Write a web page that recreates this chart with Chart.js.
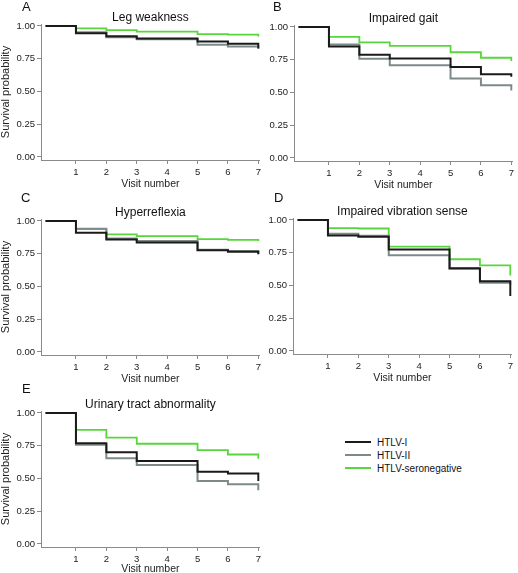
<!DOCTYPE html>
<html>
<head>
<meta charset="utf-8">
<script src="https://cdn.jsdelivr.net/npm/chart.js@4"></script>
<style>
  body { margin: 0; background: #fff; }
  #wrap { position: relative; width: 518px; height: 573px; overflow: hidden; font-family: "Liberation Sans", Arial, sans-serif; }
  canvas { position: absolute; }
  .tag { position: absolute; font-size: 13px; color: #111; line-height: 13px; }
  .key { position: absolute; left: 345px; font-size: 10px; color: #111; line-height: 12px; }
  .key span { display: inline-block; width: 26px; height: 2px; vertical-align: middle; margin-right: 6px; position: relative; top: -1px; }
</style>
</head>
<body>
<div id="wrap">
  <canvas id="cA" width="264" height="190" style="left:0px;top:0px"></canvas>
  <canvas id="cB" width="264" height="190" style="left:253px;top:1px"></canvas>
  <canvas id="cC" width="264" height="190" style="left:0px;top:195px"></canvas>
  <canvas id="cD" width="264" height="190" style="left:252px;top:194px"></canvas>
  <canvas id="cE" width="264" height="188" style="left:0px;top:387px"></canvas>
  <div class="tag" style="left:22px;top:0px">A</div>
  <div class="tag" style="left:273px;top:0px">B</div>
  <div class="tag" style="left:21px;top:191px">C</div>
  <div class="tag" style="left:274px;top:191px">D</div>
  <div class="tag" style="left:22px;top:382px">E</div>
  <div class="key" style="top:437px"><span style="background:#1a1a1a"></span>HTLV-I</div>
  <div class="key" style="top:450px"><span style="background:#7d8a8a"></span>HTLV-II</div>
  <div class="key" style="top:463px"><span style="background:#58d63c"></span>HTLV-seronegative</div>
</div>
<script>
// visits where the curves step (no events at visit 4)
const visits = [0, 1, 2, 3, 5, 6, 7];
const xTicks = [1, 2, 3, 4, 5, 6, 7];
const yTicks = [0, 0.25, 0.5, 0.75, 1];
const groups = ['HTLV-I', 'HTLV-II', 'HTLV-seronegative'];

// A - Leg weakness
const legI = [1, 0.945, 0.922, 0.905, 0.882, 0.864, 0.83];
const legII = [1, 0.952, 0.914, 0.898, 0.857, 0.843, 0.825];
const legNeg = [1, 0.982, 0.968, 0.957, 0.937, 0.934, 0.92];

// B - Impaired gait
const gaitI = [1, 0.85, 0.787, 0.76, 0.695, 0.64, 0.62];
const gaitII = [1, 0.867, 0.757, 0.707, 0.607, 0.555, 0.515];
const gaitNeg = [1, 0.925, 0.882, 0.855, 0.807, 0.765, 0.74];

// C - Hyperreflexia
const hypI = [1, 0.91, 0.858, 0.835, 0.776, 0.765, 0.748];
const hypII = [1, 0.94, 0.866, 0.848, 0.78, 0.77, 0.745];
const hypNeg = [1, 0.938, 0.897, 0.884, 0.861, 0.855, 0.848];

// D - Impaired vibration sense
const vibI = [1, 0.882, 0.872, 0.775, 0.632, 0.533, 0.42];
const vibII = [1, 0.895, 0.88, 0.73, 0.628, 0.52, 0.505];
const vibNeg = [1, 0.937, 0.935, 0.797, 0.70, 0.654, 0.577];

// E - Urinary tract abnormality
const uriI = [1, 0.768, 0.70, 0.633, 0.552, 0.538, 0.48];
const uriII = [1, 0.758, 0.655, 0.603, 0.48, 0.455, 0.41];
const uriNeg = [1, 0.871, 0.812, 0.765, 0.716, 0.683, 0.65];

const colors = ['#1a1a1a', '#7d8a8a', '#58d63c'];
const axisColor = '#8a8a8a';

Chart.defaults.font.family = '"Liberation Sans", Arial, sans-serif';
Chart.defaults.color = '#222';

function makePanel(id, title, series, showYTitle, xHeight) {
    const ctx = document.getElementById(id).getContext('2d');
    const datasets = series.map((vals, i) => ({
        label: groups[i],
        data: visits.map((v, j) => ({ x: v, y: vals[j] })),
        borderColor: colors[i],
        borderWidth: i === 2 ? 1.8 : 2,
        stepped: 'before',
        pointRadius: 0,
        fill: false
    }));

    new Chart(ctx, {
        type: 'line',
        data: { datasets },
        options: {
            responsive: false,
            animation: false,
            layout: { padding: { left: 0, right: 3, top: 0, bottom: 0 } },
            plugins: {
                legend: { display: false },
                tooltip: { enabled: false },
                title: {
                    display: true,
                    text: title,
                    fullSize: false,
                    color: '#111',
                    font: { size: 12, weight: 'normal', lineHeight: 1 },
                    padding: { top: 12, bottom: 0 }
                }
            },
            scales: {
                x: {
                    type: 'linear',
                    min: -0.15,
                    max: 7.05,
                    afterBuildTicks: axis => { axis.ticks = xTicks.map(v => ({ value: v })); },
                    afterFit: scale => { scale.height = xHeight; },
                    ticks: { font: { size: 9.5 }, padding: 3, maxRotation: 0 },
                    grid: { display: true, drawOnChartArea: false, tickLength: 4, color: axisColor },
                    border: { display: true, color: axisColor, width: 1 },
                    title: {
                        display: true,
                        text: 'Visit number',
                        font: { size: 10.5 },
                        padding: { top: 0, bottom: 0 }
                    }
                },
                y: {
                    min: -0.023,
                    max: 1.015,
                    afterBuildTicks: axis => { axis.ticks = yTicks.map(v => ({ value: v })); },
                    afterFit: scale => { scale.width = 41; },
                    ticks: { font: { size: 9.5 }, padding: 2, callback: v => v.toFixed(2) },
                    grid: { display: true, drawOnChartArea: false, tickLength: 4, color: axisColor },
                    border: { display: true, color: axisColor, width: 1 },
                    title: {
                        display: showYTitle,
                        text: 'Survival probability',
                        font: { size: 11, lineHeight: 1 },
                        padding: { top: 0, bottom: 0 }
                    }
                }
            }
        }
    });
}

makePanel('cA', 'Leg weakness', [legI, legII, legNeg], true, 30);
makePanel('cB', 'Impaired gait', [gaitI, gaitII, gaitNeg], false, 30);
makePanel('cC', 'Hyperreflexia', [hypI, hypII, hypNeg], true, 30);
makePanel('cD', 'Impaired vibration sense', [vibI, vibII, vibNeg], false, 30);
makePanel('cE', 'Urinary tract abnormality', [uriI, uriII, uriNeg], true, 28);
</script>
</body>
</html>
